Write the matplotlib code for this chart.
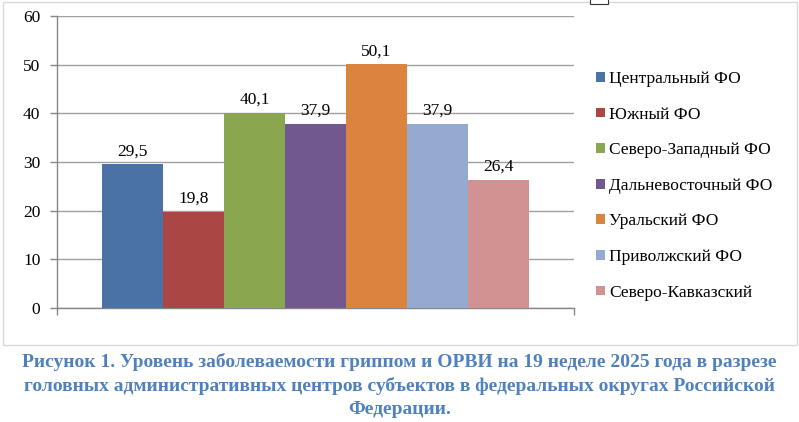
import matplotlib
matplotlib.use("Agg")
import matplotlib.pyplot as plt
from matplotlib.patches import Patch, Rectangle

series = ["Центральный ФО", "Южный ФО", "Северо-Западный ФО", "Дальневосточный ФО",
          "Уральский ФО", "Приволжский ФО", "Северо-Кавказский"]
values = [29.5, 19.8, 40.1, 37.9, 50.1, 37.9, 26.4]
colors = ["#4A72A6", "#AA4644", "#8AA64E", "#71588F", "#DB843D", "#94AACF", "#D09392"]
yticks = [0, 10, 20, 30, 40, 50, 60]
caption = ["Рисунок 1. Уровень заболеваемости гриппом и ОРВИ на 19 неделе 2025 года в разрезе",
           "головных административных центров субъектов в федеральных округах Российской",
           "Федерации."]

plt.rcParams['font.family'] = ['Liberation Serif', 'DejaVu Serif']

W, H = 799, 422
fig = plt.figure(figsize=(W / 100, H / 100), dpi=100)

# outer chart border
fig.patches.append(Rectangle((3 / W, 1 - 345 / H), 794 / W, 343 / H, transform=fig.transFigure,
                             fill=False, edgecolor="#D9D9D9", linewidth=1))
# small selection handle at top
fig.patches.append(Rectangle((590 / W, 1 - 4 / H), 18 / W, 6 / H, transform=fig.transFigure,
                             facecolor="white", edgecolor="#333333", linewidth=0.8))

ax = fig.add_axes([57 / W, 1 - 308 / H, 517 / W, 292 / H])
x = list(range(len(values)))
ax.bar(x, values, width=1.0, color=colors, zorder=3)
for xi, v in zip(x, values):
    ax.text(xi, v + 1.0, f"{v:.1f}".replace(".", ","), ha="center", va="bottom",
            fontsize=12.5, color="#000000", zorder=4)

ax.set_xlim(-1.235, 7.235)
ax.set_ylim(0, 60)
ax.set_yticks(yticks)
ax.set_yticklabels([str(t) for t in yticks], fontsize=12.5)
ax.yaxis.grid(True, color="#A0A0A0", linewidth=1, zorder=0)
ax.set_axisbelow(True)
ax.set_xticks([-1.235, 7.235])
ax.set_xticklabels([])
ax.tick_params(axis="x", length=5, color="#868686", width=1, direction="out")
ax.tick_params(axis="y", length=5, color="#868686", width=1, pad=7, direction="out")
for s in ["top", "right"]:
    ax.spines[s].set_visible(False)
for s in ["left", "bottom"]:
    ax.spines[s].set_color("#868686")
    ax.spines[s].set_linewidth(1)

handles = [Patch(facecolor=c, edgecolor="none") for c in colors]
leg = ax.legend(handles, series, loc="upper left", bbox_to_anchor=(596 / W, 1 - 71 / H),
                bbox_transform=fig.transFigure, frameon=False, fontsize=12.5,
                handlelength=0.5, handleheight=0.5, handletextpad=0.25,
                labelspacing=1.13, borderaxespad=0, borderpad=0)

for line, yy in zip(caption, [362, 386, 410]):
    fig.text(0.5, 1 - yy / H, line, ha="center", va="center",
             fontsize=14, fontweight="bold", color="#4F81BD")

fig.savefig("out.png", dpi=100)
